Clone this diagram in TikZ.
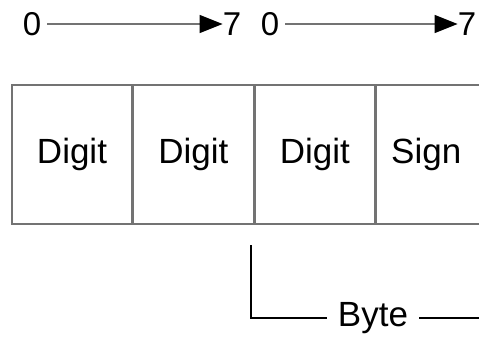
\documentclass[tikz,border=0pt]{standalone}
\usepackage{fontspec}
\setmainfont{Liberation Sans}
\usetikzlibrary{arrows.meta,positioning}
\definecolor{frame}{RGB}{115,115,115}

\begin{document}
\begin{tikzpicture}[
    x=1pt, y=-1pt,
    cell/.style={rectangle, draw=frame, line width=1.4pt, minimum width=120pt, minimum height=139pt, inner sep=0pt, font=\fontsize{35}{40}\selectfont},
    bit/.style={inner sep=0pt, font=\fontsize{33}{38}\selectfont},
    bitarrow/.style={draw=frame, line width=1.4pt, -{Triangle[length=23pt,width=18pt,color=black]}},
    bracket/.style={line width=1.8pt}
]
    \useasboundingbox (0,0) rectangle (479,337);
    \clip (0,0) rectangle (479,337);

    % packed field: three digits and the sign
    \node[cell] (cell1) at (72,154.5) {\raisebox{-3pt}{Digit}};
    \node[cell, right=0pt of cell1] (cell2) {\raisebox{-3pt}{Digit}};
    \node[cell, right=0pt of cell2] (cell3) {\raisebox{-3pt}{Digit}};
    \node[cell, right=0pt of cell3] (cell4) {\hspace*{-20pt}\raisebox{-3pt}{Sign}};

    % bit numbering above the bytes
    \node[bit] (lo1) at (32,24) {0};
    \node[bit] (hi1) at (232,24) {7};
    \node[bit] (lo2) at (270,24) {0};
    \node[bit] (hi2) at (467,24) {7};
    \draw[bitarrow] (lo1.east) ++(6,0) coordinate (a1) -- (hi1.west);
    \draw[bitarrow] (lo2.east) ++(6,0) coordinate (a2) -- (hi2.west);

    % byte bracket
    \coordinate (brk) at (251,245);
    \node[bit, font=\fontsize{35}{40}\selectfont] (byte) at (373,318) {Byte};
    \coordinate (brkend) at (485,318);
    \draw[bracket] (brk) |- ([xshift=-11pt]byte.west |- brkend);
    \draw[bracket] ([xshift=11pt]byte.east |- brkend) -- (brkend);
\end{tikzpicture}
\end{document}
